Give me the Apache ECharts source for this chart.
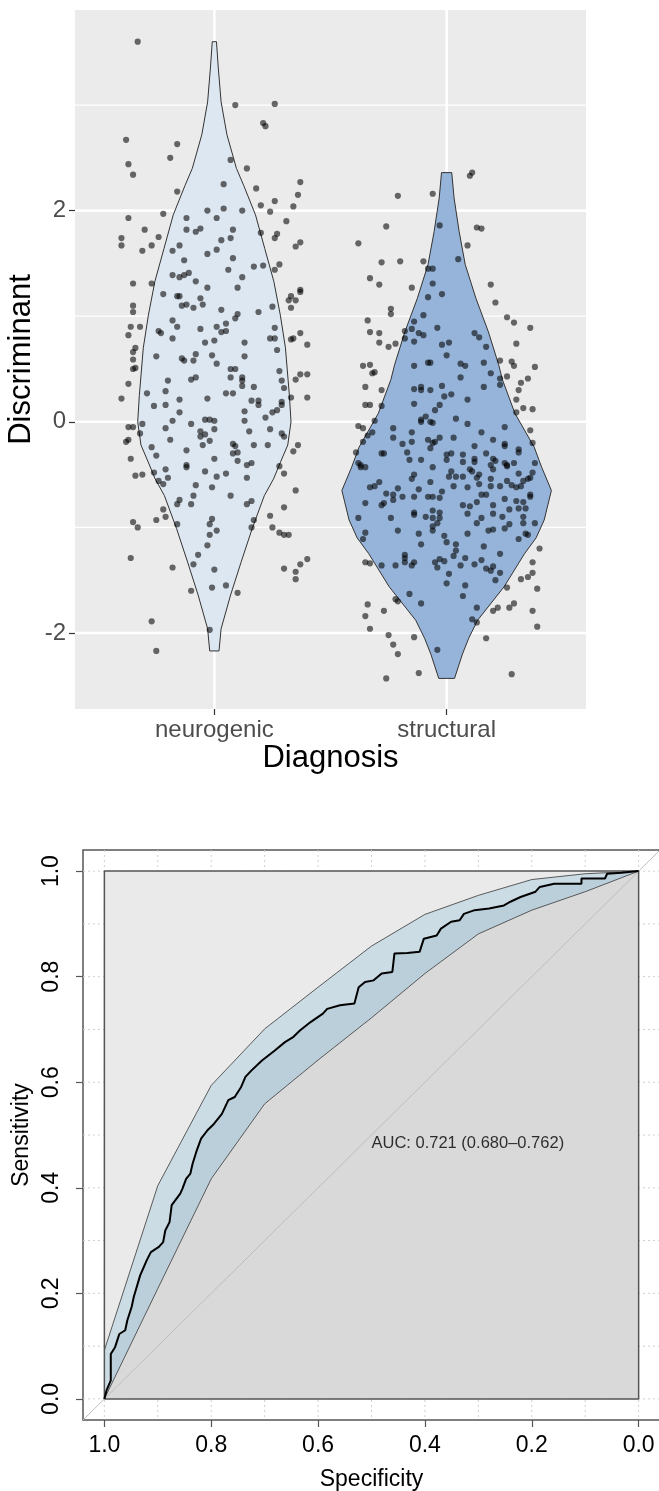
<!DOCTYPE html>
<html><head><meta charset="utf-8">
<script src="https://cdn.jsdelivr.net/npm/echarts@6.0.0/dist/echarts.min.js"></script>
<style>html,body{margin:0;padding:0;background:#fff}#c{width:659px;height:1491px}</style>
</head><body><div id="c"></div>
<script>
// ---------- data: top panel (violin + jitter) ----------
const categories = ['neurogenic', 'structural'];
const yTicksTop = [-2, 0, 2];
const yMinorTop = [-1, 1, 3];
const xTicksTop = [1, 2];
// violin outlines: [value, half-width in category units]
const neurogenicViolin = [[3.60,0.009],[3.35,0.017],[3.03,0.029],[2.72,0.054],[2.40,0.095],[2.24,0.126],[1.96,0.177],[1.64,0.217],[1.33,0.256],[1.01,0.284],[0.70,0.306],[0.25,0.323],[0.0,0.330],[-0.22,0.316],[-0.38,0.285],[-0.54,0.255],[-0.70,0.215],[-1.01,0.163],[-1.33,0.115],[-1.64,0.070],[-1.96,0.029],[-2.17,0.020]];
const structuralViolin = [[2.36,0.022],[2.12,0.032],[1.80,0.054],[1.49,0.080],[1.17,0.126],[0.85,0.180],[0.54,0.224],[0.40,0.240],[0.08,0.294],[-0.24,0.377],[-0.43,0.409],[-0.65,0.451],[-0.93,0.420],[-1.10,0.385],[-1.25,0.335],[-1.56,0.248],[-1.88,0.133],[-2.05,0.095],[-2.20,0.068],[-2.43,0.034]];
// jittered points: [x position, discriminant]
const neurogenicPoints = [[0.67,3.60],[1.09,3.00],[1.26,3.01],[1.21,2.83],[1.22,2.80],[0.62,2.67],[0.84,2.63],[0.81,2.50],[1.07,2.48],[0.63,2.44],[1.14,2.40],[0.65,2.34],[1.37,2.27],[1.04,2.25],[1.18,2.21],[0.84,2.18],[1.36,2.15],[1.26,2.09],[1.20,2.05],[1.34,2.04],[1.04,2.02],[0.97,2.00],[1.12,2.00],[1.24,1.99],[0.78,1.97],
[0.63,1.93],[0.88,1.93],[1.01,1.93],[1.31,1.90],[0.70,1.82],[0.88,1.82],[0.92,1.80],[0.94,1.83],[1.08,1.82],[1.20,1.79],[1.27,1.78],[1.26,1.74],[0.60,1.74],[0.76,1.75],[1.07,1.74],[1.03,1.72],[1.37,1.70],[1.35,1.66],[0.60,1.67],[0.73,1.67],[0.85,1.67],[0.69,1.62],[0.82,1.62],[1.01,1.63],[0.97,1.59],[0.87,1.53],[1.08,1.55],[1.28,1.49],[1.17,1.47],[1.21,1.48],[1.06,1.44],[1.26,1.44],[0.82,1.39],[0.85,1.37],[0.87,1.39],[0.89,1.41],[1.12,1.37],[0.92,1.33],[0.65,1.31],[0.73,1.31],[0.97,1.27],[1.10,1.27],[1.37,1.25],[1.37,1.23],[0.78,1.21],[0.84,1.19],[0.85,1.19],[1.33,1.19],[1.32,1.15],[1.35,1.15],[0.94,1.17],[0.88,1.11],[0.86,1.10],[0.95,1.11],[0.91,1.08],[1.25,1.09],[1.33,1.08],[0.65,1.10],[0.65,1.04],[1.03,1.06],[1.19,1.04],[1.10,1.02],[1.09,0.98],[0.82,0.96],[0.64,0.90],[0.68,0.90],[0.84,0.90],[1.01,0.90],[1.05,0.93],[0.94,0.88],[1.26,0.89],[0.76,0.86],[0.77,0.84],[1.03,0.85],[1.05,0.86],[0.63,0.82],[0.82,0.79],[1.24,0.79],[1.26,0.79],[1.33,0.78],[1.34,0.79],[1.37,0.84],[1.00,0.77],[0.96,0.75],[1.13,0.75],[1.40,0.73],[0.66,0.70],[0.65,0.66],[1.27,0.68],[0.92,0.64],[0.99,0.63],[0.75,0.62],[0.86,0.60],[0.87,0.58],[0.91,0.58],[1.13,0.62],[0.65,0.59],[1.01,0.55],[0.66,0.51],[0.65,0.50],[1.07,0.50],[1.09,0.50],[1.28,0.48],[1.37,0.45],[1.40,0.45],[1.35,0.40],[0.90,0.40],[0.92,0.42],[1.07,0.42],[1.12,0.42],[1.12,0.39],[0.80,0.39],[1.29,0.39],[0.63,0.36],[1.12,0.34],[1.17,0.33],[1.30,0.32],[0.79,0.29],[0.71,0.27],[1.05,0.27],[1.08,0.27],
[0.60,0.22],[0.85,0.21],[0.97,0.22],[1.16,0.20],[1.19,0.20],[1.19,0.16],[1.33,0.23],[1.40,0.23],[1.29,0.19],[1.29,0.16],[0.74,0.15],[0.79,0.16],[0.85,0.09],[1.13,0.10],[1.27,0.11],[1.25,0.09],[1.22,0.04],[1.13,0.01],[0.82,0.01],[0.96,0.02],[0.98,0.02],[1.00,0.01],[0.90,-0.02],[0.63,-0.05],[0.65,-0.05],[0.69,-0.02],[0.79,-0.06],[1.00,-0.07],[1.24,-0.07],[0.94,-0.09],[0.96,-0.12],[0.94,-0.14],[1.15,-0.09],[0.68,-0.11],[1.29,-0.11],[1.30,-0.14],[0.63,-0.17],[0.62,-0.19],[0.81,-0.17],[0.98,-0.18],[0.95,-0.22],[1.08,-0.21],[1.09,-0.23],[1.17,-0.22],[1.23,-0.22],[1.36,-0.22],[0.73,-0.24],[0.88,-0.27],[1.08,-0.30],[1.10,-0.29],[1.34,-0.28],[0.75,-0.32],[0.64,-0.35],[1.00,-0.35],[1.10,-0.37],[1.16,-0.39],[1.14,-0.41],[0.88,-0.41],[0.88,-0.43],[1.28,-0.42],[0.79,-0.45],[0.74,-0.48],[0.96,-0.47],[1.05,-0.49],[1.30,-0.49],[0.66,-0.51],[0.69,-0.50],[0.80,-0.53],[1.01,-0.52],[1.14,-0.53],[0.76,-0.56],[0.78,-0.59],[0.92,-0.60],[0.99,-0.62],[1.35,-0.65],[1.07,-0.70],[0.91,-0.70],[0.85,-0.74],[0.84,-0.78],[0.90,-0.78],[1.14,-0.78],[1.16,-0.75],[1.30,-0.81],[0.78,-0.83],[0.75,-0.93],[0.79,-0.90],[0.99,-0.92],[0.98,-0.97],[0.84,-0.97],[1.17,-0.93],[1.24,-0.89],[0.65,-0.95],[0.67,-1.00],[1.01,-1.03],[0.98,-1.07],[1.16,-1.00],[1.25,-1.00],[1.28,-1.05],[1.30,-1.07],[1.32,-1.07],[0.97,-1.17],[0.64,-1.29],[0.93,-1.26],[1.40,-1.30],[1.37,-1.35],[0.82,-1.38],[0.91,-1.35],[1.00,-1.40],[1.30,-1.39],[1.35,-1.42],[1.35,-1.49],[0.99,-1.57],[1.05,-1.55],[0.90,-1.60],[1.10,-1.62],[0.73,-1.89],[0.98,-1.97],[0.75,-2.17]];
const structuralPoints = [[2.11,2.36],[2.10,2.33],[1.94,2.16],[1.79,2.14],[1.74,1.85],[1.97,1.86],[2.13,1.84],[2.15,1.83],[1.62,1.69],[2.09,1.67],[1.72,1.51],[1.80,1.52],[1.90,1.52],[2.05,1.54],[1.92,1.45],[1.94,1.45],[1.67,1.36],[1.71,1.30],[1.94,1.31],[1.85,1.27],[2.19,1.30],[1.98,1.21],[1.92,1.18],[2.21,1.13],[1.76,1.07],[1.76,1.02],[1.90,1.01],[1.66,0.96],[2.26,0.99],[2.29,0.94],[2.36,0.89],[1.86,0.95],[1.85,0.88],[1.96,0.89],[1.67,0.85],[1.71,0.84],[1.82,0.86],[1.88,0.84],[1.90,0.82],[2.12,0.84],[2.14,0.80],[1.82,0.79],[1.86,0.76],[1.71,0.75],[1.75,0.71],[1.78,0.74],[2.01,0.75],[1.98,0.73],[2.17,0.71],[2.30,0.74],[2.00,0.63],[2.23,0.58],[2.28,0.57],[1.64,0.53],[1.67,0.54],[1.86,0.53],[1.92,0.56],[1.93,0.56],[2.06,0.55],[2.08,0.53],[2.16,0.56],[2.29,0.53],[2.38,0.52],[1.68,0.46],[1.69,0.47],[2.19,0.46],[2.26,0.43],[2.06,0.42],[2.23,0.41],[2.35,0.41],
[1.65,0.33],[1.72,0.30],[1.86,0.31],[1.89,0.33],[1.89,0.30],[1.93,0.30],[1.98,0.34],[2.16,0.33],[2.23,0.35],[2.32,0.37],[2.31,0.30],[1.99,0.24],[2.02,0.26],[2.09,0.21],[1.86,0.17],[1.97,0.16],[1.65,0.16],[1.67,0.16],[1.72,0.15],[2.30,0.21],[2.33,0.13],[2.37,0.12],[2.30,0.09],[1.95,0.11],[1.91,0.05],[1.89,0.02],[1.89,0.00],[1.93,0.00],[1.94,-0.01],[2.04,0.03],[2.09,-0.02],[1.69,0.01],[1.62,-0.04],[1.64,-0.06],[1.77,-0.06],[2.25,-0.05],[1.85,-0.10],[2.15,-0.10],[2.36,-0.08],[1.68,-0.10],[1.66,-0.13],[1.77,-0.15],[1.97,-0.15],[2.03,-0.15],[1.92,-0.17],[1.95,-0.19],[1.94,-0.20],[1.85,-0.19],[1.81,-0.21],[2.20,-0.17],[2.25,-0.21],[2.25,-0.23],[1.64,-0.19],[2.37,-0.20],[2.12,-0.23],[1.93,-0.25],[1.83,-0.29],[1.72,-0.30],[1.73,-0.30],[1.61,-0.29],[2.00,-0.31],[2.02,-0.30],[2.07,-0.31],[2.17,-0.30],[2.31,-0.29],[2.31,-0.26],[1.84,-0.36],[1.89,-0.36],[2.00,-0.36],[2.07,-0.38],[2.12,-0.35],[2.12,-0.38],[2.20,-0.35],[2.21,-0.37],[2.25,-0.39],[2.26,-0.42],[2.26,-0.41],[2.29,-0.39],[2.38,-0.39],[1.62,-0.39],[1.63,-0.41],[1.63,-0.43],[1.65,-0.43],[1.94,-0.43],[2.19,-0.41],[2.20,-0.45],[2.10,-0.45],[2.11,-0.47],[2.02,-0.47],[2.14,-0.50],[2.31,-0.49],[2.37,-0.48],[1.86,-0.50],[2.01,-0.52],[2.04,-0.52],[2.07,-0.52],[1.85,-0.54],[2.13,-0.53],[2.19,-0.54],[2.26,-0.56],[2.35,-0.54],[2.36,-0.53],[2.33,-0.56],[1.71,-0.57],[1.93,-0.57],[2.14,-0.59],[2.19,-0.61],[2.23,-0.61],[2.28,-0.60],[2.30,-0.62],[2.32,-0.61],[1.67,-0.62],[1.69,-0.61],[1.79,-0.63],[2.03,-0.61],[2.09,-0.62],[1.88,-0.64],[1.98,-0.66],[1.74,-0.68],[1.77,-0.69],[2.15,-0.69],[2.17,-0.69],[2.36,-0.69],[2.36,-0.71],[1.81,-0.71],[1.77,-0.74],[1.86,-0.71],[1.92,-0.71],[1.94,-0.71],[1.97,-0.72],[2.25,-0.73],[2.30,-0.75],[2.33,-0.76],[1.65,-0.77],[1.72,-0.79],[1.73,-0.77],[2.13,-0.76],[2.07,-0.79],[2.10,-0.80],[2.20,-0.79],[2.27,-0.83],[2.31,-0.82],[2.34,-0.82],[1.94,-0.84],[1.97,-0.86],[1.86,-0.86],[1.86,-0.88],[2.09,-0.87],[2.20,-0.87],[2.24,-0.90],[1.62,-0.91],[1.76,-0.91],[1.91,-0.90],[1.94,-0.91],[1.97,-0.91],[2.15,-0.91],[2.33,-0.90],
[1.79,-1.03],[1.65,-1.05],[1.64,-1.11],[1.88,-1.06],[1.94,-0.99],[1.94,-1.03],[1.96,-0.96],[2.09,-1.06],[2.13,-0.96],[2.18,-1.03],[2.20,-1.02],[2.25,-1.01],[2.27,-0.97],[2.33,-0.96],[2.38,-0.96],[2.34,-1.06],[2.35,-1.07],[2.31,-1.11],[1.89,-1.16],[1.99,-1.08],[2.00,-1.14],[2.04,-1.16],[2.04,-1.22],[2.16,-1.18],[2.40,-1.20],[2.03,-1.27],[1.82,-1.26],[1.82,-1.29],[2.08,-1.29],[2.23,-1.25],[1.65,-1.33],[1.67,-1.34],[1.72,-1.36],[1.78,-1.36],[1.82,-1.33],[1.86,-1.33],[1.85,-1.36],[1.95,-1.33],[1.97,-1.30],[1.99,-1.32],[2.06,-1.36],[2.12,-1.35],[2.15,-1.31],[2.37,-1.33],[1.96,-1.38],[2.17,-1.39],[2.19,-1.41],[2.20,-1.37],[2.23,-1.43],[2.37,-1.43],[2.01,-1.44],[2.35,-1.47],[2.32,-1.49],[2.21,-1.50],[2.00,-1.53],[2.08,-1.55],[2.26,-1.57],[2.39,-1.58],[1.84,-1.63],[1.78,-1.68],[1.79,-1.70],[2.07,-1.65],[1.89,-1.72],[1.66,-1.73],[1.73,-1.79],[1.65,-1.84],[2.13,-1.76],[2.20,-1.79],[2.22,-1.76],[2.27,-1.76],[2.29,-1.72],[2.37,-1.79],[2.11,-1.87],[2.13,-1.90],[2.39,-1.94],[1.67,-1.96],[1.75,-2.02],[1.86,-2.04],[2.17,-2.05],[1.77,-2.11],[1.79,-2.20],[1.96,-2.16],[1.88,-2.38],[1.74,-2.43],[2.28,-2.39]];

// ---------- data: ROC panel ----------
const rocCurve = [[1.000,0.000],[0.996,0.016],[0.988,0.035],[0.988,0.085],[0.980,0.098],[0.972,0.123],[0.961,0.130],[0.957,0.149],[0.949,0.174],[0.945,0.193],[0.933,0.234],[0.921,0.262],[0.913,0.278],[0.898,0.288],[0.890,0.297],[0.886,0.319],[0.878,0.335],[0.874,0.367],[0.858,0.389],[0.854,0.398],[0.847,0.417],[0.839,0.427],[0.835,0.445],[0.827,0.471],[0.819,0.493],[0.807,0.509],[0.795,0.521],[0.780,0.540],[0.768,0.566],[0.756,0.572],[0.744,0.591],[0.736,0.610],[0.725,0.622],[0.705,0.641],[0.681,0.660],[0.662,0.676],[0.646,0.686],[0.634,0.698],[0.614,0.714],[0.591,0.730],[0.583,0.739],[0.559,0.746],[0.532,0.749],[0.524,0.780],[0.512,0.790],[0.496,0.793],[0.481,0.806],[0.461,0.809],[0.457,0.844],[0.433,0.845],[0.410,0.847],[0.402,0.872],[0.378,0.878],[0.370,0.891],[0.351,0.904],[0.335,0.907],[0.327,0.919],[0.307,0.926],[0.280,0.929],[0.252,0.935],[0.240,0.942],[0.221,0.951],[0.193,0.961],[0.185,0.970],[0.158,0.976],[0.107,0.976],[0.107,0.986],[0.063,0.986],[0.059,0.995],[0.032,0.997],[0.000,1.000]];
const ciUpper = [[1,0.092],[0.9,0.404],[0.8,0.594],[0.7,0.701],[0.6,0.780],[0.5,0.858],[0.4,0.918],[0.3,0.954],[0.2,0.984],[0.1,0.995],[0,1]];
const ciLower = [[1,0.0],[0.9,0.209],[0.8,0.417],[0.7,0.559],[0.6,0.642],[0.5,0.722],[0.4,0.806],[0.3,0.881],[0.2,0.926],[0.1,0.961],[0,1]];
const rocTicks = [0, 0.2, 0.4, 0.6, 0.8, 1.0];
const rocGridLines = [0, 0.1, 0.2, 0.3, 0.4, 0.5, 0.6, 0.7, 0.8, 0.9, 1.0];
const aucValue = 0.721, aucLow = 0.680, aucHigh = 0.762;

const FONT = '"Liberation Sans", Arial, sans-serif';
const violinColors = ['#DDE7F1', '#96B4D9'];

function gridLineSeries(idx, values, horizontal, style, z, midX, midY) {
  return {
    type: 'custom', xAxisIndex: idx, yAxisIndex: idx, z: z, silent: true, animation: false,
    data: values.map(v => horizontal ? [midX, v] : [v, midY]),
    renderItem: (params, api) => {
      const cs = params.coordSys;
      const p = api.coord([api.value(0), api.value(1)]);
      const shape = horizontal ? {x1: cs.x, y1: p[1], x2: cs.x + cs.width, y2: p[1]}
                               : {x1: p[0], y1: cs.y, x2: p[0], y2: cs.y + cs.height};
      return {type: 'line', shape: shape, style: Object.assign({fill: null}, style)};
    }
  };
}

const chart = echarts.init(document.getElementById('c'), null, {renderer: 'canvas'});
chart.setOption({
  animation: false,
  backgroundColor: '#ffffff',
  grid: [
    {left: 75, top: 10, width: 511, height: 699, show: true, backgroundColor: '#EBEBEB', borderWidth: 0, containLabel: false, outerBoundsMode: 'none'},
    {left: 83, top: 850, width: 577, height: 570, show: true, backgroundColor: '#FFFFFF', borderColor: '#555555', borderWidth: 1.5, containLabel: false, outerBoundsMode: 'none'}
  ],
  xAxis: [
    {type: 'value', gridIndex: 0, min: 0.4, max: 2.6,
     axisLine: {show: false, onZero: false}, splitLine: {show: false},
     axisTick: {show: true, customValues: xTicksTop, length: 6, lineStyle: {color: '#333333', width: 1.2}},
     axisLabel: {customValues: xTicksTop, formatter: v => categories[Math.round(v) - 1], fontSize: 24, color: '#4D4D4D', fontFamily: FONT, margin: 9},
     name: 'Diagnosis', nameLocation: 'middle', nameGap: 34, nameMoveOverlap: false,
     nameTextStyle: {fontSize: 31, color: '#000', fontFamily: FONT}},
    {type: 'value', gridIndex: 1, min: -0.04, max: 1.04, inverse: true,
     axisLine: {show: false, onZero: false}, splitLine: {show: false},
     axisTick: {show: true, customValues: rocTicks, length: 7, lineStyle: {color: '#555555', width: 1.2}},
     axisLabel: {customValues: rocTicks, formatter: v => v.toFixed(1), fontSize: 23, color: '#000', fontFamily: FONT, margin: 14},
     name: 'Specificity', nameLocation: 'middle', nameGap: 48, nameMoveOverlap: false,
     nameTextStyle: {fontSize: 23, color: '#000', fontFamily: FONT}}
  ],
  yAxis: [
    {type: 'value', gridIndex: 0, min: -2.72, max: 3.90,
     axisLine: {show: false, onZero: false}, splitLine: {show: false},
     axisTick: {show: true, customValues: yTicksTop, length: 6, lineStyle: {color: '#333333', width: 1.2}},
     axisLabel: {customValues: yTicksTop, formatter: v => String(v), fontSize: 24, color: '#4D4D4D', fontFamily: FONT, margin: 9},
     name: 'Discriminant', nameLocation: 'middle', nameGap: 38, nameRotate: 90, nameMoveOverlap: false,
     nameTextStyle: {fontSize: 31, color: '#000', fontFamily: FONT}},
    {type: 'value', gridIndex: 1, min: -0.04, max: 1.04,
     axisLine: {show: false, onZero: false}, splitLine: {show: false},
     axisTick: {show: true, customValues: rocTicks, length: 7, lineStyle: {color: '#555555', width: 1.2}},
     axisLabel: {customValues: rocTicks, formatter: v => v.toFixed(1), rotate: 90, fontSize: 23, color: '#000', fontFamily: FONT, margin: 20},
     name: 'Sensitivity', nameLocation: 'middle', nameGap: 50, nameRotate: 90, nameMoveOverlap: false,
     nameTextStyle: {fontSize: 23, color: '#000', fontFamily: FONT}}
  ],
  series: [
    // ---- top panel ----
    gridLineSeries(0, yMinorTop, true, {stroke: '#FFFFFF', lineWidth: 1.3}, 1, 1.5, 0),
    gridLineSeries(0, yTicksTop, true, {stroke: '#FFFFFF', lineWidth: 2.6}, 1, 1.5, 0),
    gridLineSeries(0, xTicksTop, false, {stroke: '#FFFFFF', lineWidth: 2.6}, 1, 0, 0),
    {type: 'custom', xAxisIndex: 0, yAxisIndex: 0, z: 2, silent: true,
     data: [[1, 0], [2, 0]],
     renderItem: (params, api) => {
       const idx = params.dataIndex;
       const shape = idx === 0 ? neurogenicViolin : structuralViolin;
       const c = api.value(0);
       const pts = [];
       shape.forEach(d => pts.push(api.coord([c + d[1], d[0]])));
       for (let i = shape.length - 1; i >= 0; i--) pts.push(api.coord([c - shape[i][1], shape[i][0]]));
       return {type: 'polygon', shape: {points: pts}, style: {fill: violinColors[idx], stroke: '#333333', lineWidth: 1}};
     }},
    {type: 'scatter', xAxisIndex: 0, yAxisIndex: 0, z: 3, silent: true, data: neurogenicPoints,
     symbol: 'circle', symbolSize: 6.2, itemStyle: {color: 'rgba(0,0,0,0.72)', borderWidth: 0}},
    {type: 'scatter', xAxisIndex: 0, yAxisIndex: 0, z: 3, silent: true, data: structuralPoints,
     symbol: 'circle', symbolSize: 6.2, itemStyle: {color: 'rgba(0,0,0,0.72)', borderWidth: 0}},
    // ---- ROC panel ----
    gridLineSeries(1, rocGridLines, true, {stroke: '#CFCFCF', lineWidth: 1, lineDash: [2, 3]}, 1, 0.5, 0.5),
    gridLineSeries(1, rocGridLines, false, {stroke: '#CFCFCF', lineWidth: 1, lineDash: [2, 3]}, 1, 0.5, 0.5),
    {type: 'line', xAxisIndex: 1, yAxisIndex: 1, z: 2, silent: true, showSymbol: false, symbol: 'none',
     data: [[1, 1], [0, 1]], lineStyle: {width: 0}, areaStyle: {color: '#EAEAEA', opacity: 1}},
    {type: 'line', xAxisIndex: 1, yAxisIndex: 1, z: 3, silent: true, showSymbol: false, symbol: 'none',
     data: ciUpper, lineStyle: {color: '#4A4A4A', width: 0.9}, areaStyle: {color: '#CBDCE4', opacity: 1}},
    {type: 'line', xAxisIndex: 1, yAxisIndex: 1, z: 4, silent: true, showSymbol: false, symbol: 'none',
     data: rocCurve, lineStyle: {width: 0}, areaStyle: {color: '#BBCFDB', opacity: 1}},
    {type: 'line', xAxisIndex: 1, yAxisIndex: 1, z: 5, silent: true, showSymbol: false, symbol: 'none',
     data: ciLower, lineStyle: {color: '#4A4A4A', width: 0.9}, areaStyle: {color: '#D9D9D9', opacity: 1}},
    {type: 'line', xAxisIndex: 1, yAxisIndex: 1, z: 6, silent: true, showSymbol: false, symbol: 'none',
     data: [[1, 0], [1, 1], [0, 1], [0, 0], [1, 0]], lineStyle: {color: '#555555', width: 1.5}},
    {type: 'line', xAxisIndex: 1, yAxisIndex: 1, z: 7, silent: true, showSymbol: false, symbol: 'none',
     data: [[1.04, -0.04], [-0.04, 1.04]], lineStyle: {color: '#BDBDBD', width: 1}},
    {type: 'line', xAxisIndex: 1, yAxisIndex: 1, z: 8, silent: true, showSymbol: false, symbol: 'none',
     data: rocCurve, lineStyle: {color: '#000000', width: 2}},
    {type: 'scatter', xAxisIndex: 1, yAxisIndex: 1, z: 9, silent: true,
     data: [[0.5, 0.5]], symbolSize: 0.01, itemStyle: {color: 'rgba(0,0,0,0)'},
     label: {show: true, position: [0, 0], align: 'left', verticalAlign: 'top',
       formatter: 'AUC: ' + aucValue.toFixed(3) + ' (' + aucLow.toFixed(3) + '\u2013' + aucHigh.toFixed(3) + ')',
       fontSize: 16.5, color: '#000', fontFamily: FONT}}
  ]
});
</script>
</body></html>
